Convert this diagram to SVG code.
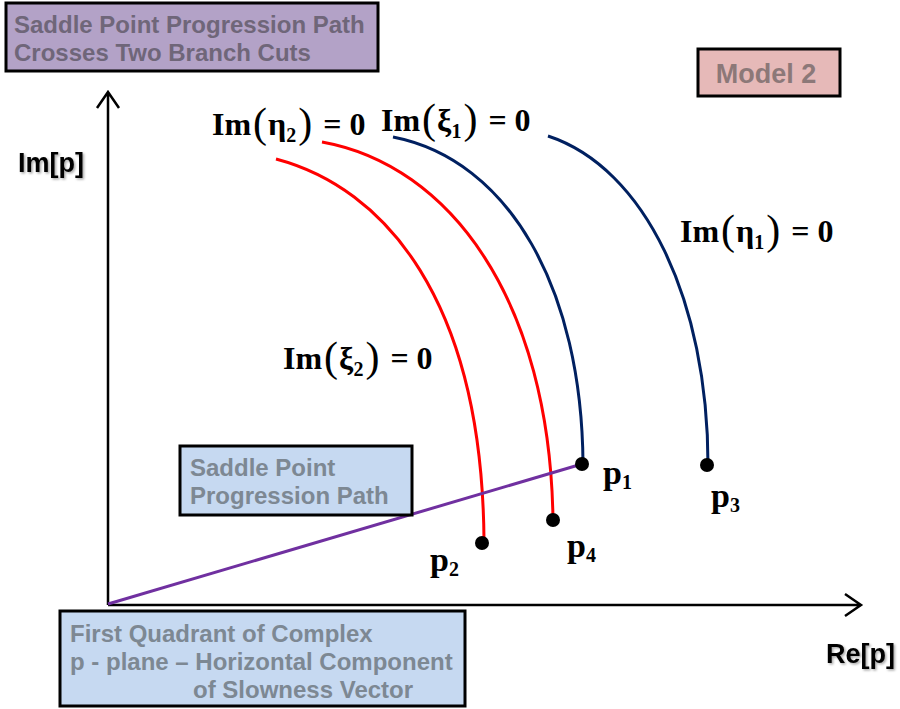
<svg xmlns="http://www.w3.org/2000/svg" width="900" height="709" viewBox="0 0 900 709">
<defs>
<style>
.box{stroke:#000;stroke-width:3}
.bt{font-family:"Liberation Sans",Arial,sans-serif;font-weight:bold;font-size:24px;fill:#7d8893}
.ax{font-family:"Liberation Sans",Arial,sans-serif;font-weight:bold;font-size:27px;fill:#000;filter:url(#sh)}
.eq{font-family:"Liberation Serif","Times New Roman",serif;font-weight:bold;font-size:32px;fill:#000}
.pl{font-family:"Liberation Serif","Times New Roman",serif;font-weight:bold;font-size:34px;fill:#000}
.par{font-weight:normal;font-size:42px}
.sub{font-size:20px}
.red{fill:none;stroke:#ff0000;stroke-width:3}
.blue{fill:none;stroke:#002060;stroke-width:3}
.axis{fill:none;stroke:#000;stroke-width:2.5}
.dot{fill:#000}
</style>
<filter id="sh" x="-10%" y="-10%" width="130%" height="140%">
<feDropShadow dx="1.5" dy="1.5" stdDeviation="1" flood-color="#000" flood-opacity="0.35"/>
</filter>
</defs>
<rect width="900" height="709" fill="#fff"/>
<g id="title">
<rect class="box" x="6" y="3" width="372" height="68" fill="#b3a2c7"/>
<text class="bt" x="14" y="33" style="fill:#6f6679">Saddle Point Progression Path</text>
<text class="bt" x="14" y="61" style="fill:#6f6679">Crosses Two Branch Cuts</text>
</g>
<g id="model2">
<rect class="box" x="698" y="49" width="142" height="47" fill="#e6b9b8"/>
<text class="bt" x="766" y="83" text-anchor="middle" style="fill:#8c7878;font-size:27px">Model 2</text>
</g>
<g id="axes">
<path class="axis" d="M108,605 V92 M97,108 L108,92 L119,108"/>
<path class="axis" d="M108,605 H861 M845,594 L861,605 L845,616"/>
<text class="ax" x="18" y="172">Im[p]</text>
<text class="ax" x="826" y="663">Re[p]</text>
</g>
<g id="connectors">
<path class="red" d="M276,159 C385,188 482,300 484,540"/>
<path class="red" d="M322,142 C450,165 550,300 553,520"/>
<path class="blue" d="M393,137 C510,160 582,290 583,464"/>
<path class="blue" d="M548,136 C645,168 708,300 708,465"/>
<path d="M108,604 L582,464" fill="none" stroke="#7030a0" stroke-width="3"/>
</g>
<g id="points">
<circle class="dot" cx="582" cy="464" r="7"/>
<circle class="dot" cx="482" cy="543" r="7"/>
<circle class="dot" cx="707" cy="465" r="7"/>
<circle class="dot" cx="553" cy="520" r="7"/>
<text class="pl" x="603" y="484">p<tspan class="sub" dy="5">1</tspan></text>
<text class="pl" x="430" y="571">p<tspan class="sub" dy="5">2</tspan></text>
<text class="pl" x="711" y="507">p<tspan class="sub" dy="5">3</tspan></text>
<text class="pl" x="567" y="557">p<tspan class="sub" dy="5">4</tspan></text>
</g>
<g id="labels">
<text class="eq" x="212" y="135">Im<tspan class="par" dx="2" dy="2">(</tspan><tspan dx="1" dy="-2">η</tspan><tspan class="sub" dy="7">2</tspan><tspan class="par" dx="2" dy="-5">)</tspan><tspan dx="3" dy="-2"> = 0</tspan></text>
<text class="eq" x="381" y="131">Im<tspan class="par" dx="2" dy="2">(</tspan><tspan dx="1" dy="-2">ξ</tspan><tspan class="sub" dy="7">1</tspan><tspan class="par" dx="2" dy="-5">)</tspan><tspan dx="3" dy="-2"> = 0</tspan></text>
<text class="eq" x="680" y="242">Im<tspan class="par" dx="2" dy="2">(</tspan><tspan dx="1" dy="-2">η</tspan><tspan class="sub" dy="7">1</tspan><tspan class="par" dx="2" dy="-5">)</tspan><tspan dx="3" dy="-2"> = 0</tspan></text>
<text class="eq" x="283" y="369">Im<tspan class="par" dx="2" dy="2">(</tspan><tspan dx="1" dy="-2">ξ</tspan><tspan class="sub" dy="7">2</tspan><tspan class="par" dx="2" dy="-5">)</tspan><tspan dx="3" dy="-2"> = 0</tspan></text>
</g>
<g id="saddle">
<rect class="box" x="180" y="446" width="232" height="69" fill="#c6d9f1"/>
<text class="bt" x="190" y="476">Saddle Point</text>
<text class="bt" x="190" y="504">Progression Path</text>
</g>
<g id="quadrant">
<rect class="box" x="60" y="611" width="405" height="95" fill="#c6d9f1"/>
<text class="bt" x="70" y="642">First Quadrant of Complex</text>
<text class="bt" x="70" y="670">p - plane – Horizontal Component</text>
<text class="bt" x="193" y="698">of Slowness Vector</text>
</g>
</svg>
